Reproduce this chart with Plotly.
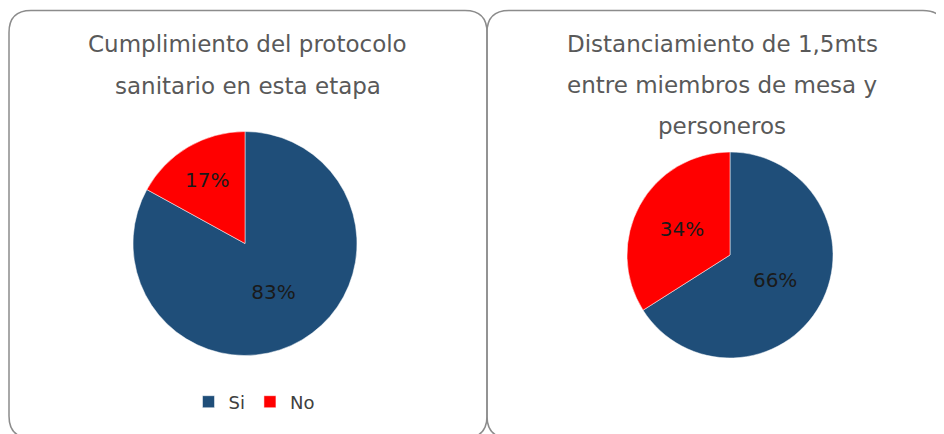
import plotly.graph_objects as go

# la pagina tiene 8px de margen en el body
OFF = 8
W, H = 944 - OFF, 434 - OFF

labels = ["Si", "No"]
protocolo = [83, 17]
distanciamiento = [66, 34]
colores = ["#1F4E79", "#FF0000"]

titulo1 = ["Cumplimiento del protocolo", "sanitario en esta etapa"]
titulo2 = ["Distanciamiento de 1,5mts", "entre miembros de mesa y", "personeros"]

FONT = "DejaVu Sans"


def px_x(v):
    return (v - OFF) / W


def px_y(v):
    # pixel desde arriba -> fraccion paper desde abajo
    return 1 - (v - OFF) / H


def rounded_box(x0, y0, x1, y1, r):
    return (f"M {x0+r},{y0} L {x1-r},{y0} Q {x1},{y0} {x1},{y0+r} "
            f"L {x1},{y1-r} Q {x1},{y1} {x1-r},{y1} L {x0+r},{y1} "
            f"Q {x0},{y1} {x0},{y1-r} L {x0},{y0+r} Q {x0},{y0} {x0+r},{y0} Z")


fig = go.Figure()

fig.add_trace(go.Pie(
    labels=labels, values=protocolo, sort=False, direction="clockwise", rotation=0,
    marker=dict(colors=colores, line=dict(color="white", width=0.5)),
    textinfo="percent", textposition="inside", insidetextorientation="horizontal",
    textfont=dict(family=FONT, size=20, color="#1a1a1a"),
    domain=dict(x=[px_x(133), px_x(357)], y=[px_y(356), px_y(131)]),
    legend="legend", hoverinfo="label+percent",
))

fig.add_trace(go.Pie(
    labels=labels, values=distanciamiento, sort=False, direction="clockwise", rotation=0,
    marker=dict(colors=colores, line=dict(color="white", width=0.5)),
    textinfo="percent", textposition="inside", insidetextorientation="horizontal",
    textfont=dict(family=FONT, size=20, color="#1a1a1a"),
    domain=dict(x=[px_x(627), px_x(833)], y=[px_y(358), px_y(152)]),
    legend="legend2", hoverinfo="label+percent",
))

# marcos redondeados de cada panel (la parte de abajo queda fuera de la imagen)
fig.add_shape(type="path", path=rounded_box(9, 10.5, 487, 438, 22), xref="x", yref="y",
              line=dict(color="#8c8c8c", width=1.5))
fig.add_shape(type="path", path=rounded_box(487, 10.5, 945, 438, 22), xref="x", yref="y",
              line=dict(color="#8c8c8c", width=1.5))

for i, linea in enumerate(titulo1):
    fig.add_annotation(text=linea, x=px_x(248), y=px_y(44 + 42 * i), xref="paper", yref="paper",
                       showarrow=False, xanchor="center", yanchor="middle",
                       font=dict(family=FONT, size=23, color="#595959"))
for i, linea in enumerate(titulo2):
    fig.add_annotation(text=linea, x=px_x(722), y=px_y(44 + 41 * i), xref="paper", yref="paper",
                       showarrow=False, xanchor="center", yanchor="middle",
                       font=dict(family=FONT, size=23, color="#595959"))

leg = dict(orientation="h", xanchor="center", yanchor="middle",
           font=dict(family=FONT, size=18, color="#404040"),
           bgcolor="rgba(0,0,0,0)", itemwidth=30, tracegroupgap=0)

fig.update_layout(
    width=W, height=H,
    margin=dict(l=0, r=0, t=0, b=0),
    paper_bgcolor="white", plot_bgcolor="white",
    xaxis=dict(range=[OFF, 944], visible=False, fixedrange=True, domain=[0, 1]),
    yaxis=dict(range=[434, OFF], visible=False, fixedrange=True, domain=[0, 1]),
    legend=dict(leg, x=px_x(254), y=px_y(402)),
    legend2=dict(leg, x=px_x(727), y=px_y(402)),
)

fig.write_html("out.html")
